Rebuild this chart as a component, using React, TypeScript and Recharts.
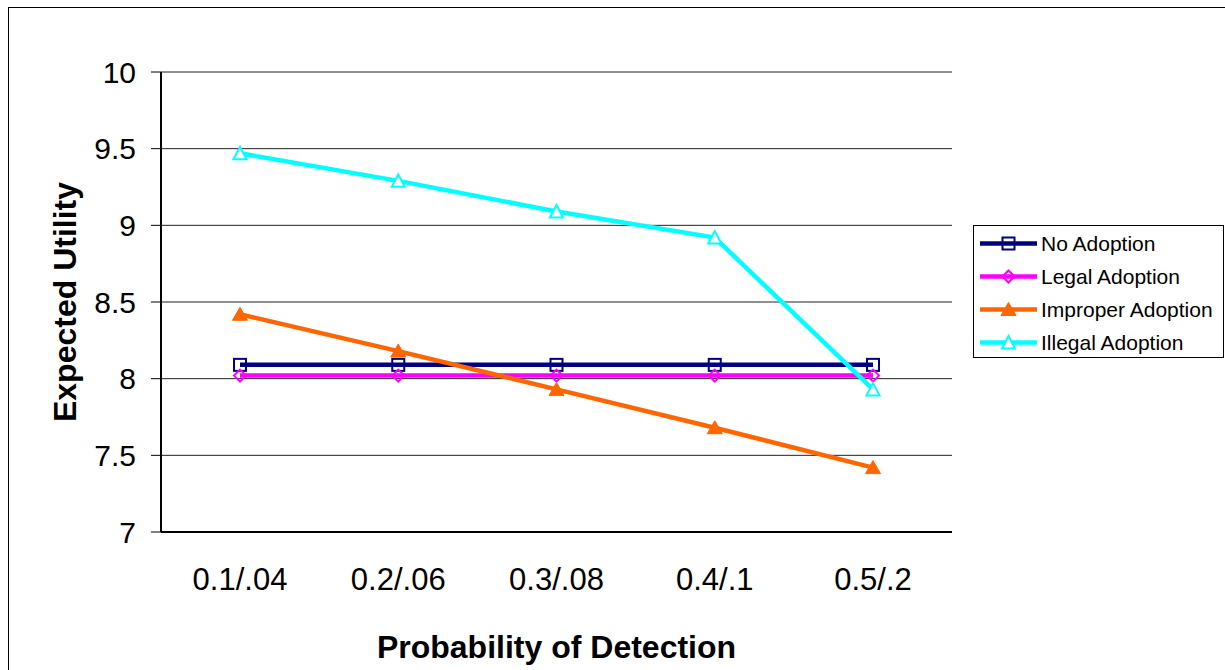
import React from 'react';
import { LineChart, Line, XAxis, YAxis, CartesianGrid, Legend, ReferenceLine } from 'recharts';

const categories = ['0.1/.04', '0.2/.06', '0.3/.08', '0.4/.1', '0.5/.2'];
const noAdoption = [8.09, 8.09, 8.09, 8.09, 8.09];
const legalAdoption = [8.02, 8.02, 8.02, 8.02, 8.02];
const improperAdoption = [8.42, 8.18, 7.93, 7.68, 7.42];
const illegalAdoption = [9.47, 9.29, 9.09, 8.92, 7.93];
const yTicks = [7, 7.5, 8, 8.5, 9, 9.5, 10];
const boundaryTicks = [0, 1, 2, 3, 4, 5];

const seriesNames = ['No Adoption', 'Legal Adoption', 'Improper Adoption', 'Illegal Adoption'];
const seriesKeys = ['noAdoption', 'legalAdoption', 'improperAdoption', 'illegalAdoption'];
const seriesColors = ['#000080', '#FF00FF', '#FF6600', '#00FFFF'];
const seriesMarkers = ['square', 'diamond', 'triangleFilled', 'triangleHollow'];

const data = categories.map((c, i) => ({
  category: c,
  noAdoption: noAdoption[i],
  legalAdoption: legalAdoption[i],
  improperAdoption: improperAdoption[i],
  illegalAdoption: illegalAdoption[i],
}));

const FONT = '"Liberation Sans", Arial, Helvetica, sans-serif';

function markerShape(kind: string, cx: number, cy: number, color: string, key?: string) {
  switch (kind) {
    case 'square':
      return <rect key={key} x={cx - 6} y={cy - 6} width={12} height={12} fill="none" stroke={color} strokeWidth={2} />;
    case 'diamond':
      return (
        <path key={key} d={`M${cx},${cy - 6} L${cx + 6},${cy} L${cx},${cy + 6} L${cx - 6},${cy} Z`} fill="none" stroke={color} strokeWidth={2} />
      );
    case 'triangleFilled':
      return (
        <path key={key} d={`M${cx},${cy - 7} L${cx + 7.5},${cy + 6} L${cx - 7.5},${cy + 6} Z`} fill={color} stroke={color} strokeWidth={1} />
      );
    default:
      return (
        <path key={key} d={`M${cx},${cy - 6.5} L${cx + 6.5},${cy + 6} L${cx - 6.5},${cy + 6} Z`} fill="#fff" stroke={color} strokeWidth={2} />
      );
  }
}

const renderLegend = () => (
  <div
    style={{
      boxSizing: 'border-box',
      width: 251,
      height: 133,
      border: '1px solid #000',
      background: '#fff',
      paddingTop: 1,
      fontFamily: FONT,
      fontSize: 21,
      color: '#000',
    }}
  >
    {seriesNames.map((name, i) => (
      <div key={name} style={{ display: 'flex', alignItems: 'center', height: 33 }}>
        <svg width={67} height={33} style={{ display: 'block', flex: 'none' }}>
          <line x1={6} x2={63} y1={16.5} y2={16.5} stroke={seriesColors[i]} strokeWidth={4.5} />
          {markerShape(seriesMarkers[i], 34.5, 16.5, seriesColors[i])}
        </svg>
        <span style={{ whiteSpace: 'nowrap' }}>{name}</span>
      </div>
    ))}
  </div>
);

export default function App() {
  return (
    <div
      style={{
        position: 'absolute',
        left: 8,
        top: 7,
        boxSizing: 'border-box',
        borderLeft: '1px solid #000',
        borderTop: '1px solid #000',
        width: 1217,
        height: 663,
        background: '#fff',
      }}
    >
      <LineChart
        width={1216}
        height={662}
        data={data}
        margin={{ top: 64, right: 22, bottom: 38, left: 52 }}
        style={{ fontFamily: FONT }}
      >
        <CartesianGrid vertical={false} stroke="#222" strokeWidth={1} />
        <XAxis
          xAxisId="grid"
          type="number"
          domain={[0, 5]}
          ticks={boundaryTicks}
          tick={false}
          axisLine={false}
          tickLine={{ stroke: '#000', strokeWidth: 1 }}
          tickSize={9}
          height={0}
        />
        <XAxis
          dataKey="category"
          type="category"
          padding={{ left: 79, right: 79 }}
          axisLine={{ stroke: '#000', strokeWidth: 2 }}
          tickLine={false}
          tickSize={0}
          tickMargin={36}
          height={100}
          tick={{ fill: '#000', fontSize: 31, fontFamily: FONT }}
          interval={0}
          label={{ value: 'Probability of Detection', position: 'bottom', offset: 3, fill: '#000', fontSize: 32, fontWeight: 'bold', fontFamily: FONT }}
        />
        <YAxis
          domain={[7, 10]}
          ticks={yTicks}
          width={100}
          axisLine={{ stroke: '#000', strokeWidth: 2 }}
          tickLine={{ stroke: '#000', strokeWidth: 1 }}
          tickSize={10}
          tickMargin={15}
          tick={{ fill: '#000', fontSize: 30, fontFamily: FONT }}
          label={{
            value: 'Expected Utility',
            angle: -90,
            position: 'insideLeft',
            offset: 3.5,
            fill: '#000',
            fontSize: 32,
            fontWeight: 'bold',
            fontFamily: FONT,
            style: { textAnchor: 'middle' },
          }}
        />
        <ReferenceLine xAxisId="grid" x={5} stroke="#000" strokeWidth={1.5} />
        <Legend
          layout="vertical"
          align="right"
          verticalAlign="middle"
          content={renderLegend}
          wrapperStyle={{ left: 964, top: 217, width: 251, height: 133 }}
        />
        {seriesKeys.map((k, i) => (
          <Line
            key={k}
            dataKey={k}
            name={seriesNames[i]}
            stroke={seriesColors[i]}
            strokeWidth={4.5}
            isAnimationActive={false}
            activeDot={false}
            dot={(p: any) => markerShape(seriesMarkers[i], p.cx, p.cy, seriesColors[i], `${k}-dot-${p.index}`)}
          />
        ))}
      </LineChart>
    </div>
  );
}
